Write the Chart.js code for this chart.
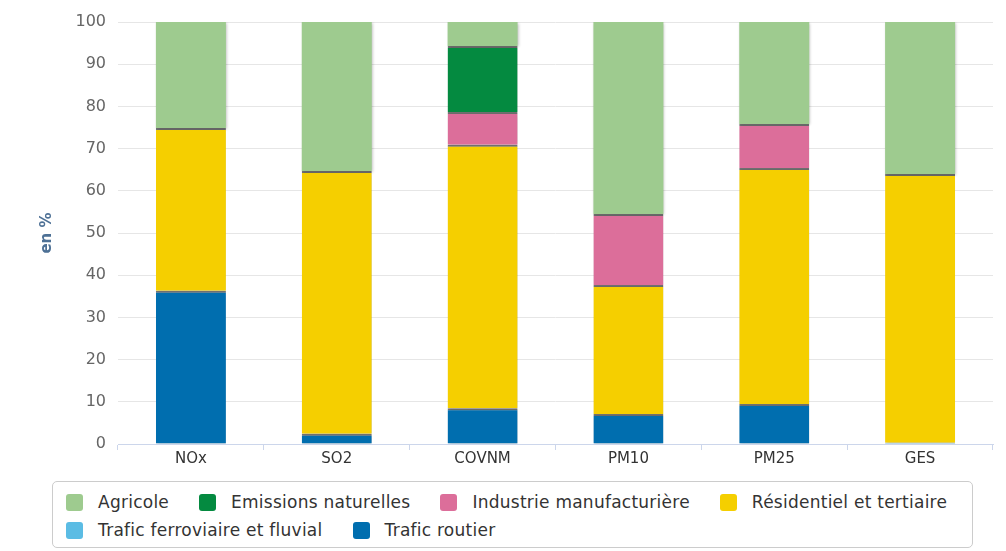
<!DOCTYPE html>
<html>
<head>
<meta charset="utf-8">
<script src="https://cdn.jsdelivr.net/npm/chart.js@4"></script>
<style>
  body { margin: 0; background: #fff; font-family: "DejaVu Sans", sans-serif; }
  #wrap { position: relative; width: 1006px; height: 470px; }
  #legend {
    position: absolute; left: 52px; top: 481px; width: 921px; height: 67px;
    border: 1px solid #cccccc; border-radius: 5px; box-sizing: border-box;
    padding: 9px 0 0 13px;
  }
  .row { height: 28px; white-space: nowrap; }
  .item { display: inline-block; margin-right: 30px; font-size: 17px; letter-spacing: 0.25px; color: #333; vertical-align: top; line-height: 22px; }
  .sw { display: inline-block; width: 17px; height: 17px; border-radius: 3px; margin-right: 15px; vertical-align: -3px; }
</style>
</head>
<body>
<div id="wrap"><canvas id="chart"></canvas></div>
<div id="legend"></div>
<script>
// categories
const polluants = ["NOx", "SO2", "COVNM", "PM10", "PM25", "GES"];

// series, bottom of the stack first (en %)
const traficRoutier = [36.3, 2.4, 8.5, 7.1, 9.5, 0.3];
const traficFerroviaire = [0, 0, 0, 0, 0, 0];
const residentiel = [38.6, 62.3, 62.4, 30.6, 55.9, 63.7];
const industrie = [0, 0, 7.8, 16.8, 10.4, 0];
const emissionsNaturelles = [0, 0, 15.6, 0, 0, 0];
const agricole = [25.1, 35.3, 5.7, 45.5, 24.2, 36.0];

const yTicks = [0, 10, 20, 30, 40, 50, 60, 70, 80, 90, 100];

const series = [
  { label: "Trafic routier", data: traficRoutier, color: "#006eaf" },
  { label: "Trafic ferroviaire et fluvial", data: traficFerroviaire, color: "#5bbce4" },
  { label: "Résidentiel et tertiaire", data: residentiel, color: "#f5cf00" },
  { label: "Industrie manufacturière", data: industrie, color: "#dc6e9a" },
  { label: "Emissions naturelles", data: emissionsNaturelles, color: "#048a40" },
  { label: "Agricole", data: agricole, color: "#9ecb8f" }
];

// soft shadow like the original columns
const shadowPlugin = {
  id: "shadow",
  beforeDatasetsDraw(chart) {
    const c = chart.ctx;
    c.save();
    c.shadowColor = "rgba(0,0,0,0.28)";
    c.shadowBlur = 3;
    c.shadowOffsetX = 1;
    c.shadowOffsetY = 1;
  },
  afterDatasetsDraw(chart) {
    chart.ctx.restore();
  }
};

const ctx = document.getElementById("chart").getContext("2d");
const chart = new Chart(ctx, {
  type: "bar",
  data: {
    labels: polluants,
    datasets: series.map((s, i) => ({
      label: s.label,
      data: s.data,
      backgroundColor: s.color,
      borderColor: "rgba(70,70,70,0.75)",
      borderWidth: i === series.length - 1 ? 0 : { top: 2, left: 0, right: 0, bottom: 0 },
      borderSkipped: false,
      categoryPercentage: 0.48,
      barPercentage: 1
    }))
  },
  options: {
    responsive: true,
    maintainAspectRatio: false,
    animation: false,
    layout: { padding: { left: 38, right: 13, top: 22, bottom: 0 } },
    plugins: {
      legend: { display: false },
      tooltip: { enabled: false }
    },
    scales: {
      x: {
        stacked: true,
        afterFit: (s) => { s.height = 26; },
        grid: {
          display: true,
          offset: true,
          drawOnChartArea: false,
          drawTicks: true,
          tickLength: 6,
          color: "#ccd6eb"
        },
        border: { color: "#ccd6eb" },
        ticks: { color: "#333333", font: { family: "DejaVu Sans", size: 15 }, padding: 0 }
      },
      y: {
        stacked: true,
        min: 0,
        max: 100,
        afterFit: (s) => { s.width = 80; },
        afterBuildTicks: (s) => { s.ticks = yTicks.map(v => ({ value: v })); },
        grid: { color: "#e6e6e6", drawTicks: false },
        border: { display: false },
        ticks: { color: "#666666", font: { family: "DejaVu Sans", size: 16 }, padding: 12 },
        title: {
          display: true,
          text: "en %",
          color: "#4d7095",
          font: { family: "DejaVu Sans", size: 15, weight: "bold" },
          padding: { top: 0, bottom: 0 }
        }
      }
    }
  },
  plugins: [shadowPlugin]
});

// legend in the original order (top of the stack first)
const legendOrder = [
  ["Agricole", "Emissions naturelles", "Industrie manufacturière", "Résidentiel et tertiaire"],
  ["Trafic ferroviaire et fluvial", "Trafic routier"]
];
const legendEl = document.getElementById("legend");
legendOrder.forEach(row => {
  const r = document.createElement("div");
  r.className = "row";
  row.forEach(name => {
    const s = series.find(x => x.label === name);
    const it = document.createElement("span");
    it.className = "item";
    it.innerHTML = '<span class="sw" style="background:' + s.color + '"></span>' + s.label;
    r.appendChild(it);
  });
  legendEl.appendChild(r);
});
</script>
</body>
</html>
